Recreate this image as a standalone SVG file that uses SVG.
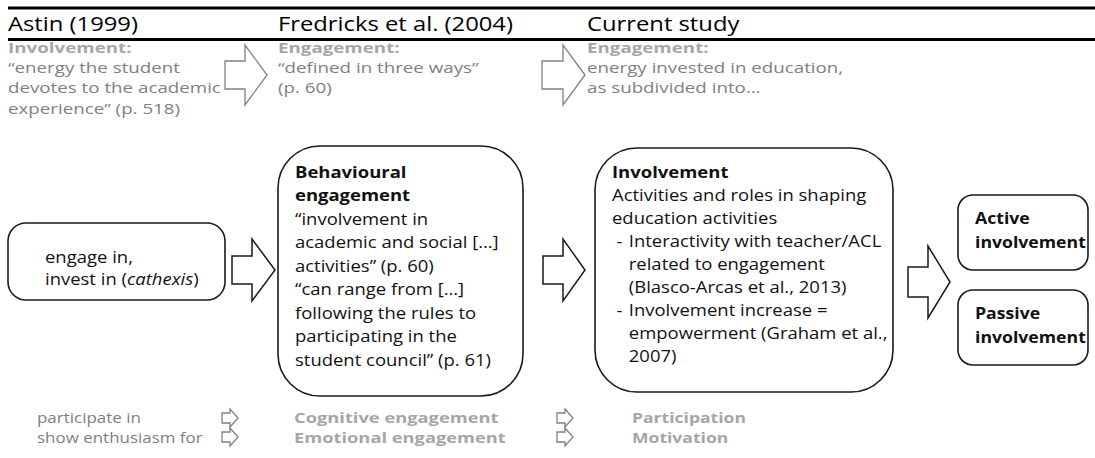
<svg xmlns="http://www.w3.org/2000/svg" width="1095" height="458" viewBox="0 0 1095 458">
<style>
text{font-family:'Open Sans','Liberation Sans',sans-serif;}
.hd{font-size:20.5px;fill:#000}
.g{font-size:15px;fill:#808080}
.gb{font-size:15px;fill:#a6a6a6;font-weight:bold}
.b{font-size:16.5px;fill:#111}
.bb{font-weight:bold}
.box{fill:#fff;stroke:#1a1a1a;stroke-width:1.6}
.arr{fill:#fff;stroke:#1a1a1a;stroke-width:1.5;stroke-linejoin:miter}
.arrg{fill:#fff;stroke:#808080;stroke-width:1.3}
.rule{stroke:#000;stroke-width:3.2}
</style>
<rect width="1095" height="458" fill="#fff"/>
<g id="header">
<line class="rule" x1="8" y1="8" x2="1095" y2="8"/>
<line class="rule" x1="8" y1="39.5" x2="1095" y2="39.5"/>
<text class="hd" transform="translate(8,31) scale(1.16,1)">Astin (1999)</text>
<text class="hd" transform="translate(278,31) scale(1.16,1)">Fredricks et al. (2004)</text>
<text class="hd" transform="translate(587,31) scale(1.16,1)">Current study</text>
</g>
<g id="astin-def">
<text transform="translate(8,53) scale(1.25,1)"><tspan class="gb" x="0">Involvement:</tspan><tspan class="g" x="0" dy="20.2">“energy the student</tspan><tspan class="g" x="0" dy="20.2">devotes to the academic</tspan><tspan class="g" x="0" dy="20.2">experience” (p. 518)</tspan></text>
</g>
<g id="fredricks-def">
<text transform="translate(278,53) scale(1.25,1)"><tspan class="gb" x="0">Engagement:</tspan><tspan class="g" x="0" dy="20.2">“defined in three ways”</tspan><tspan class="g" x="0" dy="20.2">(p. 60)</tspan></text>
</g>
<g id="current-def">
<text transform="translate(587,53) scale(1.25,1)"><tspan class="gb" x="0">Engagement:</tspan><tspan class="g" x="0" dy="20.2">energy invested in education,</tspan><tspan class="g" x="0" dy="20.2">as subdivided into…</tspan></text>
</g>
<g id="box-engage">
<rect class="box" x="8" y="223" width="217" height="77" rx="18"/>
<text class="b" transform="translate(45,263) scale(1.12,1)"><tspan x="0">engage in,</tspan><tspan x="0" dy="22">invest in (<tspan font-style="italic">cathexis</tspan>)</tspan></text>
</g>
<g id="box-behavioural">
<rect class="box" x="278" y="146" width="245" height="250" rx="42"/>
<text class="b" transform="translate(295,178) scale(1.12,1)"><tspan class="bb" x="0">Behavioural</tspan><tspan class="bb" x="0" dy="23.5">engagement</tspan><tspan x="0" dy="23.5">“involvement in</tspan><tspan x="0" dy="23.5">academic and social […]</tspan><tspan x="0" dy="23.5">activities” (p. 60)</tspan><tspan x="0" dy="23.5">“can range from […]</tspan><tspan x="0" dy="23.5">following the rules to</tspan><tspan x="0" dy="23.5">participating in the</tspan><tspan x="0" dy="23.5">student council” (p. 61)</tspan></text>
</g>
<g id="box-involvement">
<rect class="box" x="595" y="148" width="298" height="244" rx="42"/>
<text class="b" transform="translate(612,178) scale(1.12,1)"><tspan class="bb" x="0">Involvement</tspan><tspan x="0" dy="23">Activities and roles in shaping</tspan><tspan x="0" dy="23">education activities</tspan><tspan x="4" dy="23">-</tspan><tspan x="15">Interactivity with teacher/ACL</tspan><tspan x="15" dy="23">related to engagement</tspan><tspan x="15" dy="23">(Blasco-Arcas et al., 2013)</tspan><tspan x="4" dy="23">-</tspan><tspan x="15">Involvement increase =</tspan><tspan x="15" dy="23">empowerment (Graham et al.,</tspan><tspan x="15" dy="23">2007)</tspan></text>
</g>
<g id="box-active">
<rect class="box" x="958" y="195" width="130" height="75" rx="15"/>
<text class="b bb" transform="translate(975,224) scale(1.07,1)"><tspan x="0">Active</tspan><tspan x="0" dy="24">involvement</tspan></text>
</g>
<g id="box-passive">
<rect class="box" x="958" y="290" width="130" height="75" rx="15"/>
<text class="b bb" transform="translate(975,319) scale(1.07,1)"><tspan x="0">Passive</tspan><tspan x="0" dy="24">involvement</tspan></text>
</g>
<g id="bottom-astin">
<text class="g" font-size="15.5" transform="translate(37,423) scale(1.13,1)"><tspan x="0">participate in</tspan><tspan x="0" dy="20">show enthusiasm for</tspan></text>
</g>
<g id="bottom-fredricks">
<text class="gb" font-size="15.5" transform="translate(294,423) scale(1.22,1)"><tspan x="0">Cognitive engagement</tspan><tspan x="0" dy="20">Emotional engagement</tspan></text>
</g>
<g id="bottom-current">
<text class="gb" font-size="15.5" transform="translate(632,423) scale(1.17,1)"><tspan x="0">Participation</tspan><tspan x="0" dy="20">Motivation</tspan></text>
</g>
<g id="connectors">
<polygon class="arrg" points="225,61 245,61 245,45 267,75 245,105 245,89 225,89"/>
<polygon class="arrg" points="542,61 563,61 563,45 585,75 563,105 563,89 542,89"/>
<polygon class="arr" points="232,256 252,256 252,239 275,270 252,301 252,284 232,284"/>
<polygon class="arr" points="543,256 563,256 563,239 585,270 563,301 563,284 543,284"/>
<polygon class="arr" points="908,267 928,267 928,246 950,282 928,318 928,297 908,297"/>
<polygon class="arrg" points="222,413 230,413 230,409 238,418 230,427 230,423 222,423"/>
<polygon class="arrg" points="222,432 230,432 230,428 238,437 230,446 230,442 222,442"/>
<polygon class="arrg" points="557,413 565,413 565,409 573,418 565,427 565,423 557,423"/>
<polygon class="arrg" points="557,432 565,432 565,428 573,437 565,446 565,442 557,442"/>
</g>
</svg>
